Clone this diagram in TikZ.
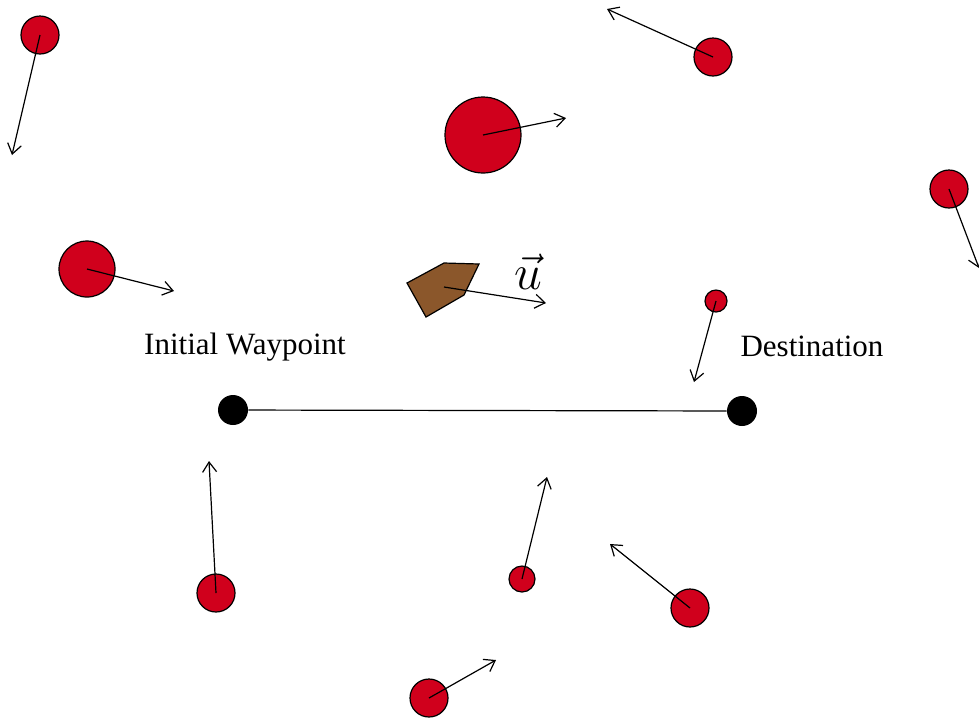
\documentclass[tikz,border=0pt]{standalone}
\usepackage{fontspec}
\setmainfont{Liberation Serif}
\usetikzlibrary{arrows.meta}
\definecolor{obsred}{RGB}{208,0,28}
\definecolor{boatbrown}{RGB}{139,87,43}
\begin{document}
\begin{tikzpicture}[x=0.5pt,y=-0.5pt,
  obs/.style={circle,draw=black,fill=obsred,line width=0.6pt,inner sep=0pt,minimum size=#1},
  wp/.style={circle,fill=black,inner sep=0pt,minimum size=15pt},
  vel/.style={-{Straight Barb[length=5pt,width=7pt]},line width=0.6pt},
  lbl/.style={font=\fontsize{15.5}{18}\selectfont}]
\useasboundingbox (0,0) rectangle (979,720);
% obstacles
\node[obs=19pt] (o1) at (40,35) {};
\node[obs=19pt] (o2) at (713,57) {};
\node[obs=38pt] (o3) at (483,135) {};
\node[obs=19pt] (o4) at (949,189) {};
\node[obs=28pt] (o5) at (87,269) {};
\node[obs=11pt] (o6) at (716,301) {};
\node[obs=19pt] (o7) at (216,593) {};
\node[obs=13pt] (o8) at (522,579) {};
\node[obs=19pt] (o9) at (690,608) {};
\node[obs=19pt] (o10) at (429,698) {};
\coordinate (e1) at (12,155);
\coordinate (e2) at (607,9);
\coordinate (e3) at (566,118);
\coordinate (e4) at (979,268);
\coordinate (e5) at (174,291);
\coordinate (e6) at (694,382);
\coordinate (e7) at (209,461);
\coordinate (e8) at (547,477);
\coordinate (e9) at (610,544);
\coordinate (e10) at (496,660);
\foreach \i in {1,...,10} \draw[vel] (o\i.center) -- (e\i);
% boat
\filldraw[fill=boatbrown,draw=black,line width=0.6pt] (407,283) -- (444,263) -- (479,264) -- (464,295) -- (426,317) -- cycle;
\coordinate (bc) at (444,287);
\coordinate (be) at (546,303);
\draw[vel] (bc) -- (be);
\node[font=\fontsize{26}{30}\selectfont] (u) at (528,272) {$\vec{u}$};
% waypoints
\node[wp] (w1) at (233,410) {};
\node[wp] (w2) at (742,411) {};
\draw[line width=0.6pt] (w1) -- (w2);
\node[lbl] (l1) at (245,347) {Initial Waypoint};
\node[lbl] (l2) at (812,346) {Destination};
\end{tikzpicture}
\end{document}
